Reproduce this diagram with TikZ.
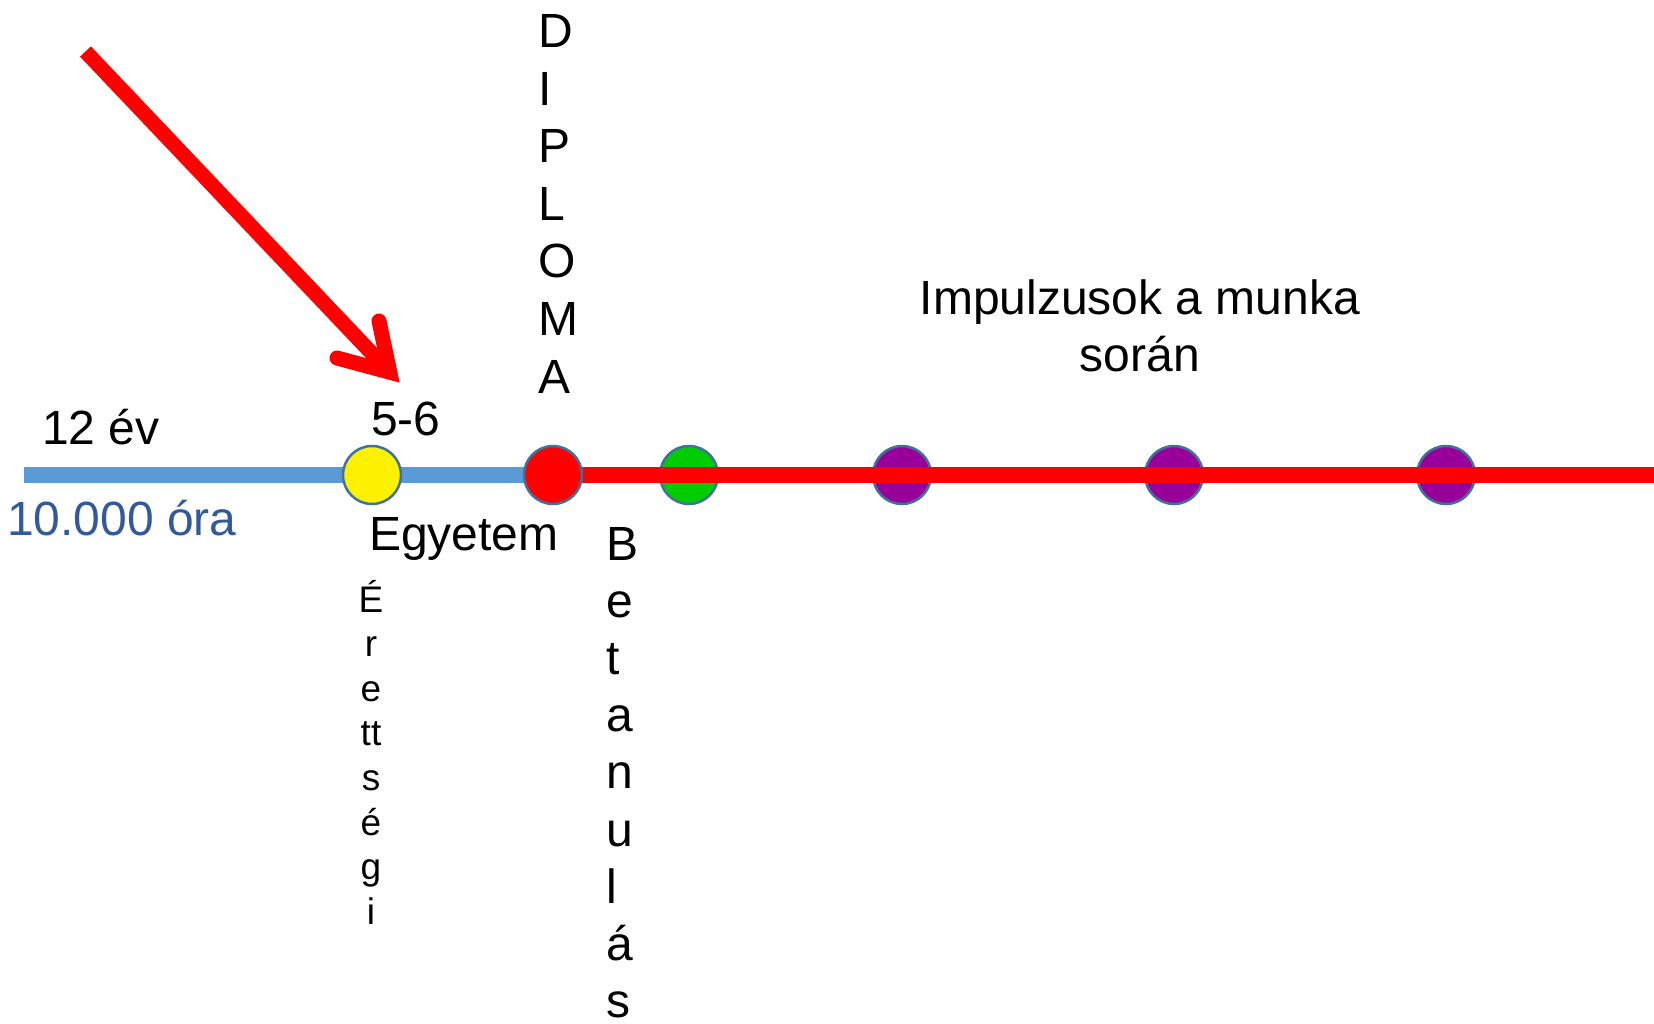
\documentclass[tikz,border=0pt]{standalone}
\usepackage{fontspec}
\setmainfont{Liberation Sans}
\definecolor{lineblue}{RGB}{91,155,213}
\definecolor{textblue}{RGB}{50,90,155}
\definecolor{ringblue}{RGB}{65,113,156}
\definecolor{dotgreen}{RGB}{0,204,0}
\definecolor{dotpurple}{RGB}{153,0,153}
\definecolor{pptred}{RGB}{255,0,0}
\tikzset{
  dot/.style={circle, draw=ringblue, line width=2.5pt, minimum size=58pt, inner sep=0pt},
  big/.style={font=\fontsize{48}{57.4}\selectfont, inner sep=0pt},
  small/.style={font=\fontsize{37}{44}\selectfont, inner sep=0pt},
  blueline/.style={draw=lineblue, line width=16pt},
  redline/.style={draw=pptred, line width=16pt},
  redshaft/.style={draw=pptred, line width=15pt, line cap=butt},
  redhead/.style={draw=pptred, line width=15pt, line cap=round, line join=miter}
}
\begin{document}
\begin{tikzpicture}[x=1pt,y=-1pt]
\useasboundingbox (0,0) rectangle (1654,1024);
% centres of the dots
\coordinate (cY) at (372,475);
\coordinate (cR) at (553,475);
\coordinate (cG) at (689,475);
\coordinate (cP1) at (902,475);
\coordinate (cP2) at (1174,475);
\coordinate (cP3) at (1446,475);
\coordinate (bl) at (24,475);
\coordinate (re) at (1654,475);
% blue time line
\draw[blueline] (bl) -- (cR);
% dots under the red line
\node[dot, fill=dotgreen] (green) at (cG) {};
\node[dot, fill=dotpurple] (purple1) at (cP1) {};
\node[dot, fill=dotpurple] (purple2) at (cP2) {};
\node[dot, fill=dotpurple] (purple3) at (cP3) {};
% red line
\draw[redline] (cR) -- (re);
% dots on top
\node[dot, fill=yellow] (yellow) at (cY) {};
\node[dot, fill=pptred] (red) at (cR) {};
% red arrow
\coordinate (a0) at (85.5,51.5);
\coordinate (av) at (389.8,372.2);
\coordinate (ab1) at (379,321);
\coordinate (ab2) at (337,358);
\draw[redshaft] (a0) -- (av);
\draw[redhead] (ab1) -- (av) -- (ab2);
% labels
\node[big, anchor=base west] (ev) at (42,444) {12 év};
\node[big, anchor=base west, text=textblue] (ora) at (7,535) {10.000 óra};
\node[big, anchor=base west] (ot) at (371,435) {5-6};
\node[big, anchor=base west] (egy) at (369,550) {Egyetem};
\node[big, anchor=base] (imp1) at (1140,314) {Impulzusok a munka};
\node[big, anchor=base] (imp2) at (1140,371) {során};
% vertical words
\foreach \ch [count=\i] in {D,I,P,L,O,M,A}
  \node[big, anchor=base west] (dip\i) at (538,{48+(\i-1)*57.5}) {\ch};
\foreach \ch [count=\i] in {B,e,t,a,n,u,l,á,s}
  \node[big, anchor=base west] (bet\i) at (606,{560+(\i-1)*57.2}) {\ch};
\foreach \ch [count=\i] in {É,r,e,tt,s,é,g,i}
  \node[small, anchor=base] (ere\i) at (371,{612+(\i-1)*44.6}) {\ch};
\end{tikzpicture}
\end{document}
